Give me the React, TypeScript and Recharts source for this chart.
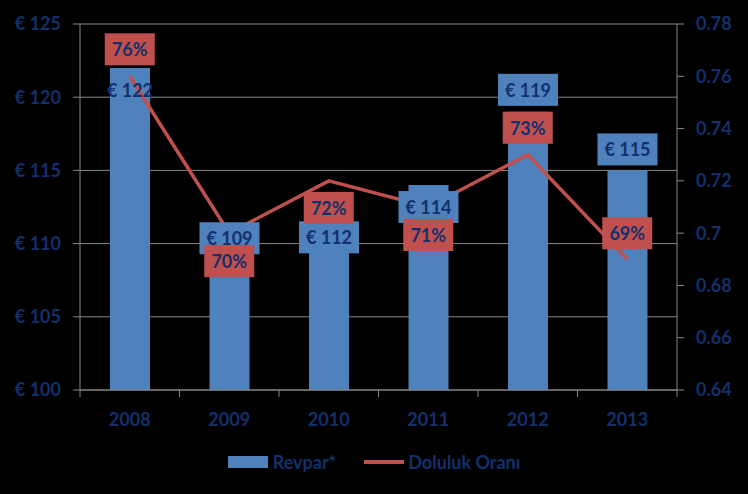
import React from 'react';
import {
  ComposedChart,
  Bar,
  Line,
  XAxis,
  YAxis,
  CartesianGrid,
  Legend,
  LabelList,
} from 'recharts';

const years = ['2008', '2009', '2010', '2011', '2012', '2013'];
const revpar = [122, 109, 112, 114, 119, 115];
const doluluk = [0.76, 0.7, 0.72, 0.71, 0.73, 0.69];
const leftTicks = [100, 105, 110, 115, 120, 125];
const rightTicks = [0.64, 0.66, 0.68, 0.7, 0.72, 0.74, 0.76, 0.78];

const data = years.map((y, i) => ({ year: y, revpar: revpar[i], doluluk: doluluk[i] }));

// label placement (styling, not data)
const barLabelDy = [22, -20, 23, 22, -22, -21];
const barLabelBox = [false, true, true, true, true, true];
const lineLabelDy = [-27, 28, 27, 28, -27, -26];

const NAVY = '#13306C';
const BLUE = '#4F81BD';
const RED = '#C0504D';
const GRID = '#878787';
const FONT = 'Lato, "Open Sans", sans-serif';

const BarLabel = (props: any) => {
  const { x, y, width, value, index } = props;
  const cx = Number(x) + Number(width) / 2;
  const cy = Number(y) + barLabelDy[index];
  return (
    <g>
      {barLabelBox[index] && <rect x={cx - 30} y={cy - 16} width={60} height={32} fill={BLUE} />}
      <text x={cx} y={cy} textAnchor="middle" dominantBaseline="central" fill={NAVY} fontSize={18} fontWeight={700} fontFamily={FONT}>
        {`€ ${value}`}
      </text>
    </g>
  );
};

const LineLabel = (props: any) => {
  const { x, y, value, index } = props;
  const cx = Number(x);
  const cy = Number(y) + lineLabelDy[index];
  return (
    <g>
      <rect x={cx - 25} y={cy - 16} width={50} height={32} fill={RED} />
      <text x={cx} y={cy} textAnchor="middle" dominantBaseline="central" fill={NAVY} fontSize={18} fontWeight={700} fontFamily={FONT}>
        {`${Math.round(Number(value) * 100)}%`}
      </text>
    </g>
  );
};

const XTick = (props: any) => {
  const { x, y, payload, width, visibleTicksCount, index } = props;
  const band = Number(width) / Number(visibleTicksCount || years.length);
  const last = index === Number(visibleTicksCount) - 1;
  return (
    <g>
      <line x1={x - band / 2} x2={x - band / 2} y1={y} y2={y + 7} stroke={GRID} strokeWidth={1} />
      {last && <line x1={x + band / 2} x2={x + band / 2} y1={y} y2={y + 7} stroke={GRID} strokeWidth={1} />}
      <text x={x} y={y + 29} textAnchor="middle" dominantBaseline="central" fill={NAVY} fontSize={18} fontWeight={700} fontFamily={FONT}>
        {payload.value}
      </text>
    </g>
  );
};

const renderLegend = (props: any) => {
  const payload = [...(props.payload || [])].sort(
    (a: any, b: any) => (a.type === 'line' ? 1 : 0) - (b.type === 'line' ? 1 : 0)
  );
  return (
    <div style={{ display: 'flex', justifyContent: 'center', alignItems: 'center', height: 64, fontFamily: FONT }}>
      {payload.map((entry: any, i: number) => (
        <div key={i} style={{ display: 'flex', alignItems: 'center', marginLeft: i === 0 ? 0 : 28 }}>
          {entry.type === 'line' ? (
            <div style={{ width: 40, height: 4, background: entry.color, marginRight: 4 }} />
          ) : (
            <div style={{ width: 40, height: 12, background: entry.color, marginRight: 5 }} />
          )}
          <span style={{ color: NAVY, fontSize: 18, fontWeight: 700 }}>{entry.value}</span>
        </div>
      ))}
    </div>
  );
};

export default function App() {
  return (
    <div style={{ position: 'absolute', left: 0, top: 0, width: 748, height: 494, background: '#000', fontFamily: FONT }}>
      <ComposedChart width={748} height={494} data={data} margin={{ top: 24, right: 0, bottom: 0, left: 0 }}>
        <CartesianGrid yAxisId="left" vertical={false} stroke={GRID} strokeWidth={1} />
        <XAxis
          dataKey="year"
          xAxisId={0}
          height={40}
          stroke={GRID}
          tickLine={false}
          tickSize={0}
          tickMargin={0}
          interval={0}
          tick={<XTick />}
        />
        <YAxis
          yAxisId="left"
          orientation="left"
          width={80}
          domain={[100, 125]}
          ticks={leftTicks}
          interval={0}
          tickFormatter={(v: number) => `€ ${v}`}
          stroke={GRID}
          tickSize={7}
          tickMargin={12}
          tick={{ fill: NAVY, fontSize: 18, fontWeight: 700 }}
        />
        <YAxis
          yAxisId="right"
          orientation="right"
          width={71}
          domain={[0.64, 0.78]}
          ticks={rightTicks}
          interval={0}
          tickFormatter={(v: number) => String(v)}
          stroke={GRID}
          tickSize={7}
          tickMargin={12}
          tick={{ fill: NAVY, fontSize: 18, fontWeight: 700 }}
        />
        <Legend verticalAlign="bottom" height={64} content={renderLegend} />
        <Bar yAxisId="left" dataKey="revpar" name="Revpar*" fill={BLUE} barSize={40} isAnimationActive={false}>
          <LabelList dataKey="revpar" content={<BarLabel />} />
        </Bar>
        <Line
          yAxisId="right"
          dataKey="doluluk"
          name="Doluluk Oranı"
          type="linear"
          stroke={RED}
          strokeWidth={3.5}
          dot={false}
          activeDot={false}
          legendType="line"
          isAnimationActive={false}
        >
          <LabelList dataKey="doluluk" content={<LineLabel />} />
        </Line>
      </ComposedChart>
    </div>
  );
}
